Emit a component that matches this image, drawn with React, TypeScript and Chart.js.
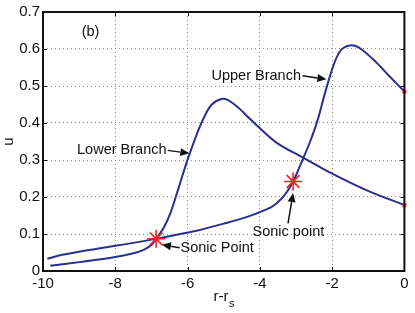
import React, { useEffect, useRef } from 'react';
import { Chart, registerables } from 'chart.js';

Chart.register(...registerables);

// Lower branch (starts low, peaks near r-rs = -5)
const lowerX = [-9.8, -9.0, -8.0, -7.5, -7.2, -7.0, -6.87, -6.66, -6.48, -6.25, -6.02, -5.79, -5.56, -5.33, -5.06, -4.88, -4.6, -4.42, -4.0, -3.51, -2.78, -2.0, -1.04, 0];
const lowerU = [0.014, 0.024, 0.038, 0.048, 0.058, 0.07, 0.087, 0.117, 0.155, 0.224, 0.295, 0.358, 0.412, 0.45, 0.465, 0.462, 0.442, 0.425, 0.386, 0.345, 0.305, 0.263, 0.218, 0.178];

// Upper branch (slowly rising, peaks near r-rs = -1.45)
const upperX = [-9.88, -9.5, -9.0, -8.5, -8.0, -7.5, -6.87, -6.3, -5.75, -5.0, -4.33, -3.8, -3.55, -3.3, -3.08, -2.82, -2.6, -2.41, -2.2, -2.0, -1.85, -1.7, -1.45, -1.2, -0.77, -0.4, 0];
const upperU = [0.033, 0.043, 0.052, 0.06, 0.068, 0.076, 0.087, 0.098, 0.109, 0.128, 0.147, 0.167, 0.182, 0.207, 0.242, 0.3, 0.352, 0.405, 0.48, 0.545, 0.582, 0.602, 0.61, 0.6, 0.563, 0.525, 0.485];

const sonicX = [-6.87, -3.08];
const sonicU = [0.087, 0.242];

const endX = [0, 0];
const endU = [0.178, 0.485];

const xTicks = [-10, -8, -6, -4, -2, 0];
const yTicks = [0, 0.1, 0.2, 0.3, 0.4, 0.5, 0.6, 0.7];

const FONT = '"Liberation Sans", Arial, Helvetica, sans-serif';
const CURVE = '#2b2f8f';

const toPts = (xs: number[], ys: number[]) => xs.map((x, i) => ({ x, y: ys[i] }));

function arrow(ctx: CanvasRenderingContext2D, x1: number, y1: number, x2: number, y2: number) {
  const ang = Math.atan2(y2 - y1, x2 - x1);
  const len = 9;
  const hw = 4;
  const bx = x2 - len * Math.cos(ang);
  const by = y2 - len * Math.sin(ang);
  ctx.save();
  ctx.strokeStyle = '#111';
  ctx.fillStyle = '#111';
  ctx.lineWidth = 1.5;
  ctx.beginPath();
  ctx.moveTo(x1, y1);
  ctx.lineTo(bx, by);
  ctx.stroke();
  ctx.beginPath();
  ctx.moveTo(x2, y2);
  ctx.lineTo(bx + hw * Math.sin(ang), by - hw * Math.cos(ang));
  ctx.lineTo(bx - hw * Math.sin(ang), by + hw * Math.cos(ang));
  ctx.closePath();
  ctx.fill();
  ctx.restore();
}

const decorPlugin = {
  id: 'decor',
  afterDraw(chart: any) {
    const { ctx, chartArea: a, scales } = chart;
    const xs = scales.x;
    const ys = scales.y;
    const X = (v: number) => xs.getPixelForValue(v);
    const Y = (v: number) => ys.getPixelForValue(v);
    ctx.save();
    // inward ticks
    ctx.strokeStyle = '#111';
    ctx.lineWidth = 1;
    ctx.beginPath();
    xTicks.forEach((t) => {
      const px = Math.round(X(t)) + 0.5;
      ctx.moveTo(px, a.bottom);
      ctx.lineTo(px, a.bottom - 4);
      ctx.moveTo(px, a.top);
      ctx.lineTo(px, a.top + 4);
    });
    yTicks.forEach((t) => {
      const py = Math.round(Y(t)) + 0.5;
      ctx.moveTo(a.left, py);
      ctx.lineTo(a.left + 4, py);
      ctx.moveTo(a.right, py);
      ctx.lineTo(a.right - 4, py);
    });
    ctx.stroke();
    // box
    ctx.lineWidth = 2;
    ctx.strokeStyle = '#111';
    ctx.strokeRect(a.left, a.top, a.right - a.left, a.bottom - a.top);

    // x-axis title r-r_s
    ctx.fillStyle = '#111';
    ctx.textBaseline = 'middle';
    ctx.textAlign = 'left';
    const main = 'r-r';
    ctx.font = `15px ${FONT}`;
    const w1 = ctx.measureText(main).width;
    ctx.font = `11px ${FONT}`;
    const w2 = ctx.measureText('s').width;
    const cx = (a.left + a.right) / 2;
    const sx = cx - (w1 + w2) / 2;
    ctx.font = `15px ${FONT}`;
    ctx.fillText(main, sx, 297);
    ctx.font = `11px ${FONT}`;
    ctx.fillText('s', sx + w1 + 0.5, 304);

    // annotations
    ctx.font = `14.5px ${FONT}`;
    ctx.textAlign = 'center';
    ctx.fillStyle = '#111';
    ctx.fillText('(b)', X(-8.685), Y(0.647));
    ctx.fillText('Lower Branch', X(-7.82), Y(0.326));
    ctx.fillText('Upper Branch', X(-4.1), Y(0.528));
    ctx.fillText('Sonic Point', X(-5.18), Y(0.061));
    ctx.fillText('Sonic point', X(-3.21), Y(0.106));
    arrow(ctx, X(-6.55), Y(0.326), X(-5.95), Y(0.318));
    arrow(ctx, X(-2.82), Y(0.528), X(-2.16), Y(0.518));
    arrow(ctx, X(-6.22), Y(0.063), X(-6.71), Y(0.071));
    arrow(ctx, X(-3.22), Y(0.129), X(-3.08), Y(0.211));
    ctx.restore();
  },
};

export default function App() {
  const ref = useRef<HTMLCanvasElement | null>(null);
  useEffect(() => {
    document.body.style.margin = '0';
    const canvas = ref.current;
    if (!canvas) return;
    const chart = new Chart(canvas, {
      type: 'line',
      data: {
        datasets: [
          {
            label: 'sonic',
            data: toPts(sonicX, sonicU),
            showLine: false,
            pointStyle: 'star',
            pointRadius: 9,
            pointBorderColor: '#ff2020',
            pointBorderWidth: 1.6,
            borderColor: '#ff2020',
            backgroundColor: '#ff2020',
          },
          {
            label: 'ends',
            data: toPts(endX, endU),
            showLine: false,
            pointStyle: 'rect',
            pointRadius: 2.8,
            pointBorderWidth: 0,
            pointBackgroundColor: '#ff2020',
            borderColor: '#ff2020',
            backgroundColor: '#ff2020',
            clip: false,
          },
          {
            label: 'lower',
            data: toPts(lowerX, lowerU),
            borderColor: CURVE,
            borderWidth: 2,
            pointRadius: 0,
            tension: 0.35,
          },
          {
            label: 'upper',
            data: toPts(upperX, upperU),
            borderColor: CURVE,
            borderWidth: 2,
            pointRadius: 0,
            tension: 0.35,
          },
        ],
      } as any,
      options: {
        animation: false,
        responsive: false,
        devicePixelRatio: 1,
        layout: { padding: { left: 0, right: 7, top: 11, bottom: 0 } },
        plugins: { legend: { display: false }, tooltip: { enabled: false }, title: { display: false } },
        scales: {
          x: {
            type: 'linear',
            min: -10,
            max: 0,
            afterBuildTicks: (s: any) => {
              s.ticks = xTicks.map((v) => ({ value: v }));
            },
            afterFit: (s: any) => {
              s.height = 42;
            },
            ticks: {
              color: '#111',
              font: { size: 15, family: FONT },
              padding: 4,
              maxRotation: 0,
              callback: (v: any) => String(v),
            },
            grid: { color: '#8a8a8a', lineWidth: 1, drawTicks: false },
            border: { display: false, dash: [1, 3] },
          },
          y: {
            type: 'linear',
            min: 0,
            max: 0.7,
            afterBuildTicks: (s: any) => {
              s.ticks = yTicks.map((v) => ({ value: v }));
            },
            afterFit: (s: any) => {
              s.width = 43;
            },
            ticks: {
              color: '#111',
              font: { size: 15, family: FONT },
              padding: 3,
              callback: (v: any) => (v === 0 ? '0' : Number(v).toFixed(1)),
            },
            title: { display: true, text: 'u', color: '#111', font: { size: 15, family: FONT }, padding: 0 },
            grid: { color: '#8a8a8a', lineWidth: 1, drawTicks: false },
            border: { display: false, dash: [1, 3] },
          },
        },
      } as any,
      plugins: [decorPlugin],
    });
    return () => chart.destroy();
  }, []);
  return (
    <div style={{ position: 'absolute', left: 0, top: 0, width: 415, height: 313, background: '#fff' }}>
      <canvas ref={ref} width={415} height={313} />
    </div>
  );
}
